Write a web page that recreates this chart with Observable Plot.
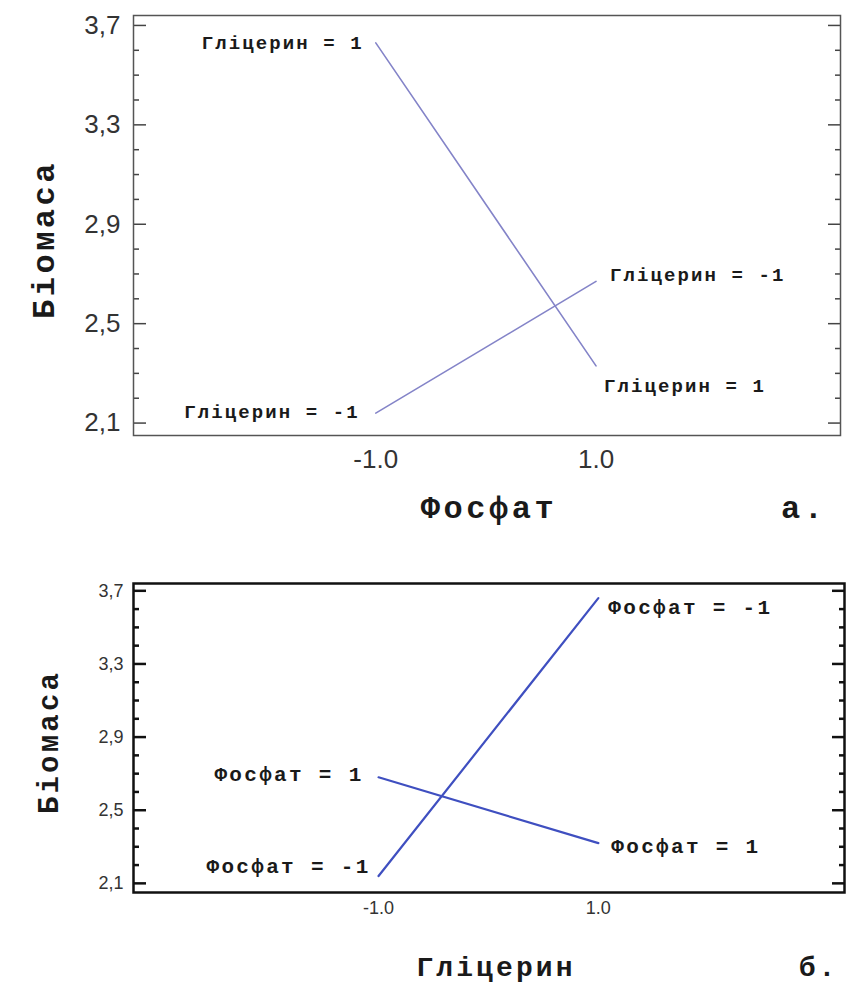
<!DOCTYPE html>
<html><head><meta charset="utf-8">
<script src="https://cdn.jsdelivr.net/npm/d3@7"></script>
<script src="https://cdn.jsdelivr.net/npm/@observablehq/plot@0.6"></script>
<style>
body{margin:0;background:#fff;}
#chart{width:856px;height:987px;}
#chart svg{display:block;overflow:visible;}
svg g[font-family*="Mono"]{letter-spacing:0.11em;}
</style></head><body><div id="chart"></div>
<script>
// ---- data ----
const levels = [-1, 1];
const xTicks = [-1, 1];
const yMajor = [2.1, 2.5, 2.9, 3.3, 3.7];
const yMinor = [2.2, 2.3, 2.4, 2.6, 2.7, 2.8, 3.0, 3.1, 3.2, 3.4, 3.5, 3.6];
const yTitle = "Біомаса";
// panel a: x = Фосфат, lines for Гліцерин levels
const aXTitle = "Фосфат";
const aLetter = "а.";
const aSeries = ["Гліцерин = 1", "Гліцерин = -1"];
const aValues = [[3.63, 2.33], [2.14, 2.67]];
// panel b: x = Гліцерин, lines for Фосфат levels
const bXTitle = "Гліцерин";
const bLetter = "б.";
const bSeries = ["Фосфат = -1", "Фосфат = 1"];
const bValues = [[2.14, 3.66], [2.68, 2.32]];

const MONO = "'Liberation Mono', 'Courier New', monospace";
const SANS = "'Liberation Sans', Arial, sans-serif";
const fmtY = d => d.toFixed(1).replace(".", ",");
const fmtX = d => d.toFixed(1);

function rowsOf(series, values) {
  const rows = [];
  series.forEach((s, i) => levels.forEach((l, j) => rows.push({series: s, x: l, y: values[i][j]})));
  return rows;
}

function label(rows, s, lvl, dx, dy, anchor, size) {
  return Plot.text(rows.filter(r => r.series === s && r.x === lvl), {
    x: "x", y: "y", text: "series", dx, dy, textAnchor: anchor,
    fontFamily: MONO, fontWeight: "bold", fontSize: size, fill: "#1a1a1a"
  });
}

function ticks(cfg) {
  const marks = [];
  for (const [vals, len] of [[yMajor, cfg.major], [yMinor, cfg.minor]]) {
    marks.push(Plot.axisY({ticks: vals, anchor: "left", tickSize: len, dx: len, tickFormat: () => "", label: null, stroke: cfg.color, strokeWidth: cfg.width}));
    marks.push(Plot.axisY({ticks: vals, anchor: "right", tickSize: len, dx: -len, tickFormat: () => "", label: null, stroke: cfg.color, strokeWidth: cfg.width}));
  }
  return marks;
}

function title(txt, opts) {
  return Plot.text([txt], {text: d => d, fontFamily: MONO, fontWeight: "bold", fill: "#1a1a1a", ...opts});
}

// ---- panel a ----
const aRows = rowsOf(aSeries, aValues);
const plotA = Plot.plot({
  width: 856, height: 540,
  marginLeft: 133, marginRight: 16, marginTop: 15, marginBottom: 105,
  x: {domain: [-3.2, 3.22], label: null},
  y: {domain: [2.05, 3.74], label: null},
  marks: [
    Plot.line(aRows, {x: "x", y: "y", z: "series", stroke: "#8484c8", strokeWidth: 1.6}),
    ...ticks({major: 13, minor: 6, color: "#444", width: 1.5}),
    Plot.axisY({ticks: yMajor, anchor: "left", tickSize: 0, tickPadding: 13, tickFormat: fmtY, label: null, fontSize: 26, fontFamily: SANS, color: "#333"}),
    Plot.axisX({ticks: xTicks, anchor: "bottom", tickSize: 0, tickPadding: 14, tickFormat: fmtX, label: null, fontSize: 26, fontFamily: SANS, color: "#333"}),
    Plot.frame({stroke: "#555", strokeWidth: 1.5}),
    label(aRows, aSeries[0], -1, -12, 0, "end", 19),
    label(aRows, aSeries[1], -1, -16, -1, "end", 19),
    label(aRows, aSeries[1], 1, 14, -7, "start", 19),
    label(aRows, aSeries[0], 1, 8, 20, "start", 19),
    title(yTitle, {frameAnchor: "left", textAnchor: "middle", lineAnchor: "middle", rotate: -90, dx: -90, dy: 14, fontSize: 32}),
    title(aXTitle, {frameAnchor: "bottom", textAnchor: "middle", lineAnchor: "middle", dx: 2, dy: 72, fontSize: 32}),
    title(aLetter, {frameAnchor: "bottom-right", textAnchor: "end", lineAnchor: "middle", dx: -14, dy: 72, fontSize: 32})
  ]
});

// ---- panel b ----
const bRows = rowsOf(bSeries, bValues);
const plotB = Plot.plot({
  width: 856, height: 447,
  marginLeft: 133, marginRight: 12, marginTop: 43, marginBottom: 95,
  x: {domain: [-3.23, 3.24], label: null},
  y: {domain: [2.05, 3.74], label: null},
  marks: [
    Plot.line(bRows, {x: "x", y: "y", z: "series", stroke: "#3f4fc0", strokeWidth: 2.2}),
    ...ticks({major: 13, minor: 6, color: "#111", width: 2.5}),
    Plot.axisY({ticks: yMajor, anchor: "left", tickSize: 0, tickPadding: 10, tickFormat: fmtY, label: null, fontSize: 18, fontFamily: SANS, color: "#333"}),
    Plot.axisX({ticks: xTicks, anchor: "bottom", tickSize: 0, tickPadding: 9, tickFormat: fmtX, label: null, fontSize: 18, fontFamily: SANS, color: "#333"}),
    Plot.frame({stroke: "#111", strokeWidth: 2.5}),
    label(bRows, bSeries[1], -1, -15, -3, "end", 21),
    label(bRows, bSeries[0], -1, -8, -10, "end", 21),
    label(bRows, bSeries[0], 1, 10, 9, "start", 21),
    label(bRows, bSeries[1], 1, 13, 3, "start", 21),
    title(yTitle, {frameAnchor: "left", textAnchor: "middle", lineAnchor: "middle", rotate: -90, dx: -85, dy: 4, fontSize: 29}),
    title(bXTitle, {frameAnchor: "bottom", textAnchor: "middle", lineAnchor: "middle", dx: 7, dy: 75, fontSize: 28}),
    title(bLetter, {frameAnchor: "bottom-right", textAnchor: "end", lineAnchor: "middle", dx: -6, dy: 75, fontSize: 28})
  ]
});

const host = document.getElementById("chart");
host.appendChild(plotA);
host.appendChild(plotB);
</script></body></html>
